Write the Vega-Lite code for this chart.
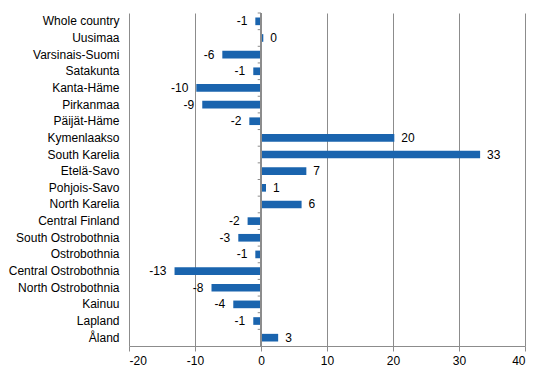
{
  "$schema": "https://vega.github.io/schema/vega-lite/v6.json",
  "autosize": "none",
  "width": 396,
  "height": 333,
  "padding": {"left": 129, "top": 13, "right": 21, "bottom": 30},
  "background": "white",
  "config": {
    "locale": {"number": {"decimal": ".", "thousands": ",", "grouping": [3], "currency": ["$", ""], "minus": "-"}},
    "view": {"stroke": null},
    "font": "Liberation Sans",
    "axis": {"labelFont": "Liberation Sans", "labelFontSize": 12, "labelColor": "#000000"}
  },
  "data": {
    "values": [
      {"region": "Whole country", "value": -0.86},
      {"region": "Uusimaa", "value": 0.35},
      {"region": "Varsinais-Suomi", "value": -5.86},
      {"region": "Satakunta", "value": -1.17},
      {"region": "Kanta-Häme", "value": -9.8},
      {"region": "Pirkanmaa", "value": -8.9},
      {"region": "Päijät-Häme", "value": -1.77},
      {"region": "Kymenlaakso", "value": 20.2},
      {"region": "South Karelia", "value": 33.2},
      {"region": "Etelä-Savo", "value": 6.87},
      {"region": "Pohjois-Savo", "value": 0.76},
      {"region": "North Karelia", "value": 6.15},
      {"region": "Central Finland", "value": -2.03},
      {"region": "South Ostrobothnia", "value": -3.44},
      {"region": "Ostrobothnia", "value": -0.86},
      {"region": "Central Ostrobothnia", "value": -13.1},
      {"region": "North Ostrobothnia", "value": -7.5},
      {"region": "Kainuu", "value": -4.2},
      {"region": "Lapland", "value": -1.17},
      {"region": "Åland", "value": 2.6}
    ]
  },
  "encoding": {
    "y": {
      "field": "region", "type": "nominal", "sort": null,
      "scale": {"paddingInner": 0, "paddingOuter": 0},
      "axis": {"title": null, "ticks": false, "domain": false, "labelPadding": 10, "grid": false}
    }
  },
  "layer": [
    {
      "mark": {"type": "bar", "color": "#1a64ae", "height": {"band": 0.46}},
      "encoding": {
        "x": {
          "field": "value", "type": "quantitative",
          "scale": {"domain": [-20, 40], "nice": false, "zero": false},
          "axis": {
            "title": null, "values": [-20, -10, 0, 10, 20, 30, 40],
            "grid": true, "gridColor": "#8c8c8c", "gridWidth": 1,
            "domainColor": "#8c8c8c", "tickColor": "#8c8c8c", "tickSize": 5,
            "labelPadding": 4
          }
        },
        "x2": {"datum": 0}
      }
    },
    {
      "mark": {"type": "rule", "color": "#8c8c8c", "strokeWidth": 1},
      "encoding": {
        "x": {"datum": 0},
        "y": null
      }
    },
    {
      "mark": {"type": "rule", "color": "#8c8c8c", "strokeWidth": 1},
      "encoding": {
        "x": {"datum": -0.5},
        "x2": {"datum": 0},
        "y": {"field": "region", "type": "nominal", "sort": null, "bandPosition": 0}
      }
    },
    {
      "transform": [{"filter": "datum.value >= 0"}],
      "mark": {"type": "text", "align": "left", "dx": 7, "fontSize": 12, "color": "#000000"},
      "encoding": {
        "x": {"field": "value", "type": "quantitative"},
        "text": {"field": "value", "type": "quantitative", "format": ".0f"}
      }
    },
    {
      "transform": [{"filter": "datum.value < 0"}],
      "mark": {"type": "text", "align": "right", "dx": -8, "fontSize": 12, "color": "#000000"},
      "encoding": {
        "x": {"field": "value", "type": "quantitative"},
        "text": {"field": "value", "type": "quantitative", "format": ".0f"}
      }
    }
  ]
}
